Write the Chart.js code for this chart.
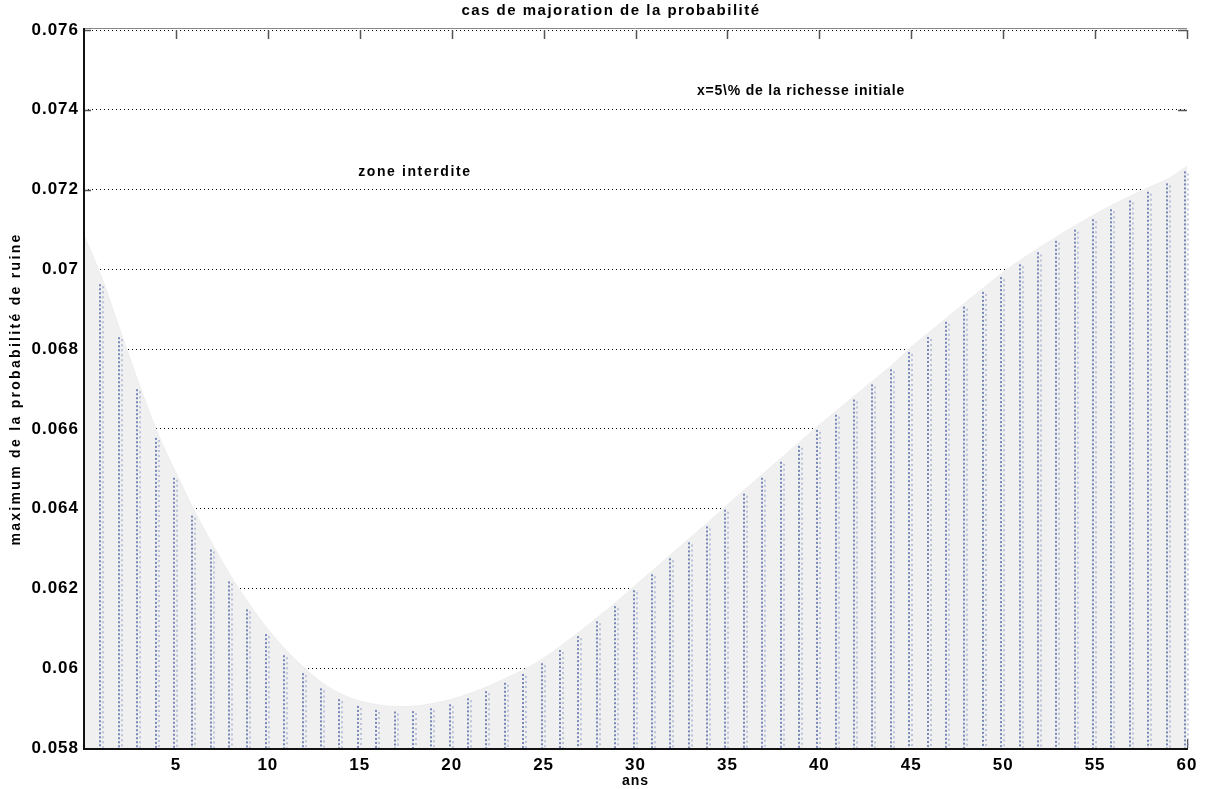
<!DOCTYPE html>
<html>
<head>
<meta charset="utf-8">
<script src="https://cdn.jsdelivr.net/npm/chart.js@4.4.1/dist/chart.umd.min.js"></script>
<style>
  html, body { margin: 0; padding: 0; background: #fff; }
  #wrap { width: 1211px; height: 789px; }
</style>
</head>
<body>
<div id="wrap"><canvas id="myChart" width="1211" height="789"></canvas></div>
<script>
// annees (axe des x)
const years = [0,1,2,3,4,5,6,7,8,9,10,11,12,13,14,15,16,17,18,19,20,
  21,22,23,24,25,26,27,28,29,30,31,32,33,34,35,36,37,38,39,40,
  41,42,43,44,45,46,47,48,49,50,51,52,53,54,55,56,57,58,59,60];

// maximum de la probabilite de ruine
const probMax = [0.07086,0.06975,0.06842,0.06712,0.06590,0.06490,0.06395,0.06310,0.06230,0.06160,0.06098,
  0.06045,0.06000,0.05962,0.05935,0.05918,0.05908,0.05904,0.05905,0.05912,0.05922,
  0.05937,0.05955,0.05976,0.05998,0.06025,0.06058,0.06093,0.06130,0.06168,0.06208,
  0.06248,0.06288,0.06328,0.06368,0.06410,0.06450,0.06490,0.06530,0.06570,0.06610,
  0.06648,0.06686,0.06724,0.06762,0.06805,0.06843,0.06881,0.06919,0.06956,0.06993,
  0.07025,0.07055,0.07084,0.07112,0.07138,0.07163,0.07185,0.07207,0.07228,0.07258];

const xTicks = [5,10,15,20,25,30,35,40,45,50,55,60];
const yTicks = [0.058,0.06,0.062,0.064,0.066,0.068,0.07,0.072,0.074,0.076];

const titleText = 'cas de majoration de la probabilité';
const xLabel = 'ans';
const yLabel = 'maximum de la probabilité de ruine';
const noteLabels = ['x=5\\% de la richesse initiale', 'zone interdite'];
const noteX = [39, 18];
const noteY = [0.07447, 0.07244];
const noteSpacing = ['0.8px', '1.6px'];

const FAMILY = '"Liberation Sans", Arial, sans-serif';

// tiges pointillees + cadre facon matlab
const matlabBox = {
    id: 'matlabBox',
    beforeDraw(chart) {
        // les textes matlab sont plus espaces
        chart.ctx.letterSpacing = '1px';
    },
    beforeDatasetsDraw(chart) {
        const { ctx, chartArea: a, scales } = chart;
        ctx.save();
        ctx.strokeStyle = '#555';
        ctx.lineWidth = 1.5;
        xTicks.forEach(t => {
            const px = Math.round(scales.x.getPixelForValue(t)) + 0.5;
            ctx.beginPath();
            ctx.moveTo(px, a.top); ctx.lineTo(px, a.top + 9);
            ctx.moveTo(px, a.bottom); ctx.lineTo(px, a.bottom - 9);
            ctx.stroke();
        });
        yTicks.forEach(v => {
            const py = Math.round(scales.y.getPixelForValue(v)) + 0.5;
            ctx.beginPath();
            ctx.moveTo(a.left, py); ctx.lineTo(a.left + 7, py);
            ctx.moveTo(a.right, py); ctx.lineTo(a.right - 9, py);
            ctx.stroke();
        });
        ctx.strokeStyle = '#888';
        ctx.lineWidth = 1;
        ctx.beginPath();
        ctx.moveTo(a.left, a.top - 1.5); ctx.lineTo(a.right, a.top - 1.5);
        ctx.stroke();
        ctx.restore();
    },
    afterDatasetsDraw(chart) {
        const { ctx, chartArea: a } = chart;
        const meta = chart.getDatasetMeta(0);
        ctx.save();
        meta.data.forEach((pt, i) => {
            if (i === 0) return;
            const px = Math.round(pt.x) - 2;
            ctx.lineWidth = 2;
            ctx.setLineDash([2, 2]);
            ctx.strokeStyle = 'rgba(90,110,170,0.8)';
            ctx.beginPath();
            ctx.moveTo(px, pt.y + 5);
            ctx.lineTo(px, a.bottom);
            ctx.stroke();
            ctx.lineWidth = 1.5;
            ctx.setLineDash([2, 3]);
            ctx.strokeStyle = 'rgba(120,140,190,0.6)';
            ctx.beginPath();
            ctx.moveTo(px + 3, pt.y + 7);
            ctx.lineTo(px + 3, a.bottom);
            ctx.stroke();
        });
        ctx.setLineDash([]);
        // axes gauche et bas
        ctx.strokeStyle = '#111';
        ctx.lineWidth = 2;
        ctx.beginPath();
        ctx.moveTo(a.left, a.top - 2); ctx.lineTo(a.left, a.bottom + 1);
        ctx.lineTo(a.right + 1, a.bottom + 1);
        ctx.stroke();
        ctx.restore();
    },
    afterDraw(chart) {
        const { ctx, chartArea: a, scales } = chart;
        ctx.save();
        ctx.fillStyle = '#000';
        ctx.textAlign = 'center';
        ctx.textBaseline = 'middle';
        ctx.letterSpacing = '1.5px';
        ctx.font = 'bold 15px ' + FAMILY;
        ctx.fillText(titleText, 611, 11);
        ctx.letterSpacing = '1px';
        ctx.font = 'bold 14px ' + FAMILY;
        ctx.fillText(xLabel, (a.left + a.right) / 2, 781);
        noteLabels.forEach((txt, i) => {
            ctx.letterSpacing = noteSpacing[i];
            ctx.fillText(txt, scales.x.getPixelForValue(noteX[i]), scales.y.getPixelForValue(noteY[i]));
        });
        ctx.translate(16, (a.top + a.bottom) / 2);
        ctx.rotate(-Math.PI / 2);
        ctx.letterSpacing = '2.3px';
        ctx.font = 'bold 14px ' + FAMILY;
        ctx.fillText(yLabel, 0, 0);
        ctx.restore();
    }
};

const points = years.map((y, i) => ({ x: y, y: probMax[i] }));

const config = {
    type: 'line',
    data: {
        datasets: [{
            data: points,
            fill: 'start',
            backgroundColor: '#f0f0f0',
            borderColor: '#ededed',
            borderWidth: 1,
            pointRadius: 0,
            cubicInterpolationMode: 'monotone'
        }]
    },
    options: {
        responsive: false,
        animation: false,
        layout: { padding: { top: 30, right: 24, left: 0, bottom: 0 } },
        plugins: { legend: { display: false }, tooltip: { enabled: false }, title: { display: false } },
        scales: {
            x: {
                type: 'linear', min: 0, max: 60,
                afterFit: s => { s.height = 41; },
                afterBuildTicks: s => { s.ticks = xTicks.map(v => ({ value: v })); },
                grid: { display: false, drawTicks: false },
                border: { display: false },
                ticks: { color: '#000', font: { family: FAMILY, size: 17, weight: 'bold' }, padding: 7, maxRotation: 0 }
            },
            y: {
                type: 'linear', min: 0.058, max: 0.076,
                afterFit: s => { s.width = 84; },
                afterBuildTicks: s => { s.ticks = yTicks.map(v => ({ value: v })); },
                grid: { color: '#000', lineWidth: 1, drawTicks: false },
                border: { display: false, dash: [1, 3] },
                ticks: {
                    color: '#000', font: { family: FAMILY, size: 17, weight: 'bold' }, padding: 5,
                    callback: v => String(Number(v.toFixed(3)))
                }
            }
        }
    },
    plugins: [matlabBox]
};

const myChart = new Chart(document.getElementById('myChart'), config);
</script>
</body>
</html>
